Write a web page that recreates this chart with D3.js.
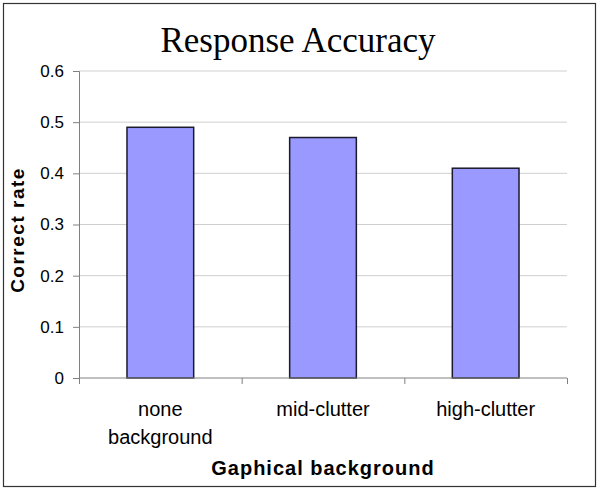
<!DOCTYPE html>
<html>
<head>
<meta charset="utf-8">
<script src="https://cdn.jsdelivr.net/npm/d3@7"></script>
<style>
  body { margin: 0; background: #fff; }
  svg { display: block; }
</style>
</head>
<body>
<div class="chart"></div>
<script>
const categories = [["none", "background"], ["mid-clutter"], ["high-clutter"]];
const values = [0.49, 0.47, 0.41];
const yTicks = [0, 0.1, 0.2, 0.3, 0.4, 0.5, 0.6];

var w = 602,
	h = 497,
	padL = 79,
	padR = 567,
	padT = 71,
	padB = 378;

const svg = d3.select(".chart").append("svg").attr("width", w).attr("height", h);

// outer frame
svg
	.append("rect")
	.attr("x", 3.5)
	.attr("y", 3.5)
	.attr("width", 592)
	.attr("height", 483)
	.attr("fill", "#fff")
	.attr("stroke", "#333")
	.attr("stroke-width", 1.2);

const xScale = d3
	.scaleBand()
	.domain(d3.range(categories.length))
	.range([padL, padR])
	.paddingInner(0.59)
	.paddingOuter(0.295);

const yScale = d3.scaleLinear().domain([0, 0.6]).range([padB, padT]);

// gridlines
svg
	.append("g")
	.selectAll("line")
	.data(yTicks.slice(1))
	.enter()
	.append("line")
	.attr("x1", padL)
	.attr("x2", padR)
	.attr("y1", (d) => yScale(d))
	.attr("y2", (d) => yScale(d))
	.attr("stroke", "#cfcfcf")
	.attr("stroke-width", 1);

const yAxis = d3
	.axisLeft(yScale)
	.tickValues(yTicks)
	.tickSize(6)
	.tickPadding(9)
	.tickFormat((d) => String(d));

const yG = svg
	.append("g")
	.attr("transform", "translate(" + padL + ",0)")
	.call(yAxis);
yG.selectAll("path, line").attr("stroke", "#808080");
yG.selectAll("text")
	.attr("font-family", "Liberation Sans, Arial, sans-serif")
	.attr("font-size", 17)
	.attr("fill", "#000");

// bars
svg
	.selectAll(".bar")
	.data(values)
	.enter()
	.append("rect")
	.attr("class", "bar")
	.attr("x", (d, i) => xScale(i))
	.attr("y", (d) => yScale(d))
	.attr("width", xScale.bandwidth())
	.attr("height", (d) => padB - yScale(d))
	.attr("fill", "#9999ff")
	.attr("stroke", "#1a1a2a")
	.attr("stroke-width", 1.5);

// x axis with ticks between categories
const xLin = d3.scaleLinear().domain([0, categories.length]).range([padL, padR]);
const xAxis = d3
	.axisBottom(xLin)
	.tickValues(d3.range(categories.length + 1))
	.tickSize(6)
	.tickFormat("");
const xG = svg
	.append("g")
	.attr("transform", "translate(0," + padB + ")")
	.call(xAxis);
xG.select(".domain").attr("d", "M" + padL + ",0H" + padR);
xG.selectAll("path, line").attr("stroke", "#808080");

// category labels
const labels = svg
	.append("g")
	.selectAll("text")
	.data(categories)
	.enter()
	.append("text")
	.attr("x", (d, i) => xScale(i) + xScale.bandwidth() / 2)
	.attr("y", padB + 38)
	.attr("text-anchor", "middle")
	.attr("font-family", "Liberation Sans, Arial, sans-serif")
	.attr("font-size", 20)
	.attr("fill", "#000");
labels
	.selectAll("tspan")
	.data((d) => d)
	.enter()
	.append("tspan")
	.attr("x", function () {
		return d3.select(this.parentNode).attr("x");
	})
	.attr("dy", (d, i) => (i === 0 ? 0 : 28))
	.text((d) => d);

// title
svg
	.append("text")
	.attr("x", 298)
	.attr("y", 52)
	.attr("text-anchor", "middle")
	.attr("font-family", "Liberation Serif, Times New Roman, serif")
	.attr("font-size", 35)
	.text("Response Accuracy");

// axis titles
svg
	.append("text")
	.attr("x", 323)
	.attr("y", 475)
	.attr("text-anchor", "middle")
	.attr("font-family", "Liberation Sans, Arial, sans-serif")
	.attr("font-weight", "bold")
	.attr("font-size", 20)
	.attr("letter-spacing", 1)
	.text("Gaphical background");

svg
	.append("text")
	.attr("transform", "translate(24,230) rotate(-90)")
	.attr("text-anchor", "middle")
	.attr("font-family", "Liberation Sans, Arial, sans-serif")
	.attr("font-weight", "bold")
	.attr("font-size", 19)
	.attr("letter-spacing", 1.5)
	.text("Correct rate");
</script>
</body>
</html>
